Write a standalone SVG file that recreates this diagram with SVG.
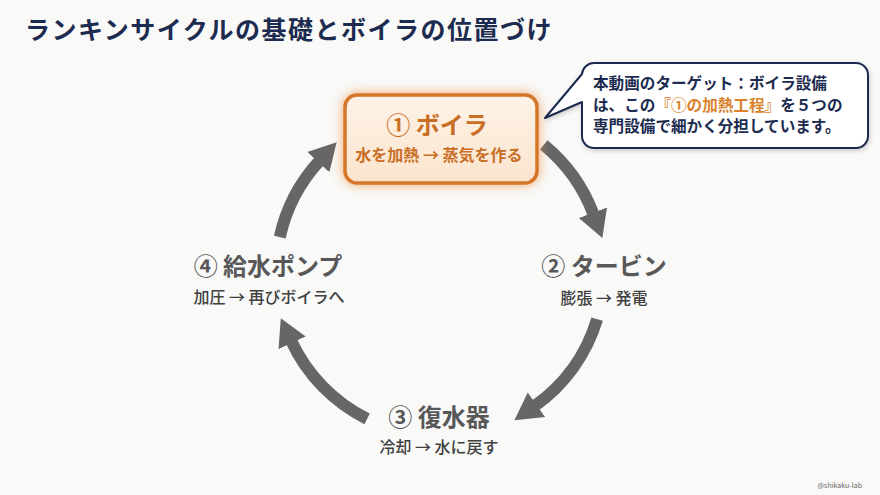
<svg xmlns="http://www.w3.org/2000/svg" width="880" height="495" viewBox="0 0 880 495">
<defs>
<style>
.jp{font-family:"Noto Sans CJK JP","Noto Sans",sans-serif;}
.title{font-size:25px;font-weight:700;fill:#1c2b4f;letter-spacing:1.5px;}
.ntitle{font-size:24px;font-weight:700;fill:#585858;text-anchor:middle;}
.nsub{font-size:16px;font-weight:500;fill:#404040;text-anchor:middle;}
.btitle{font-size:24px;font-weight:700;fill:#c96f25;text-anchor:middle;}
.bsub{font-size:16px;font-weight:700;fill:#c96f25;text-anchor:middle;}
.call{font-size:15.6px;font-weight:700;fill:#1c2b4f;}
.hl{fill:#d9822b;}
.arc{fill:none;stroke:#666;stroke-width:12;marker-end:url(#head);}
</style>
<marker id="head" markerUnits="userSpaceOnUse" markerWidth="30" markerHeight="32" refX="2" refY="16" orient="auto">
<polygon points="0,1 27,16 0,31" fill="#666"/>
</marker>
<filter id="glow" x="-20%" y="-30%" width="140%" height="160%">
<feGaussianBlur stdDeviation="6"/>
</filter>
<filter id="shadow" x="-10%" y="-20%" width="120%" height="150%">
<feDropShadow dx="1" dy="2" stdDeviation="2" flood-color="#000" flood-opacity="0.18"/>
</filter>
<linearGradient id="bfill" x1="0" y1="0" x2="0" y2="1">
<stop offset="0" stop-color="#fef3e8"/>
<stop offset="1" stop-color="#fbe4cd"/>
</linearGradient>
</defs>
<rect width="880" height="495" fill="#f9f9f8"/>
<text class="jp title" x="25" y="39">ランキンサイクルの基礎とボイラの位置づけ</text>

<g id="connectors">
<path class="arc" d="M543.7,144.9 A164,164 0 0 1 593.6,214.6"/>
<path class="arc" d="M597.1,319.1 A164,164 0 0 1 534.8,405.8"/>
<path class="arc" d="M367.1,418.9 A164,164 0 0 1 291.3,341.0"/>
<path class="arc" d="M279.8,237.1 A164,164 0 0 1 319.7,160.6"/>
</g>

<g id="boiler">
<rect x="343" y="93" width="196" height="92" rx="14" fill="#f09a55" opacity="0.8" filter="url(#glow)"/>
<rect x="345" y="95" width="192" height="88" rx="12" fill="url(#bfill)" stroke="#d5772b" stroke-width="3.5"/>
<text class="jp btitle" x="437" y="134">① ボイラ</text>
<text class="jp bsub" x="439" y="161">水を加熱 → 蒸気を作る</text>
</g>

<g id="turbine">
<text class="jp ntitle" x="604" y="275">② タービン</text>
<text class="jp nsub" x="604" y="304">膨張 → 発電</text>
</g>

<g id="condenser">
<text class="jp ntitle" x="439" y="426">③ 復水器</text>
<text class="jp nsub" x="439" y="453">冷却 → 水に戻す</text>
</g>

<g id="pump">
<text class="jp ntitle" x="268" y="275">④ 給水ポンプ</text>
<text class="jp nsub" x="269" y="303">加圧 → 再びボイラへ</text>
</g>

<g id="callout">
<path d="M594,63 H856 A12,12 0 0 1 868,75 V136 A12,12 0 0 1 856,148 H594 A12,12 0 0 1 582,136 V102 L545,118 L582,74 A12,12 0 0 1 594,63 Z" fill="#ffffff" stroke="#1c2b4f" stroke-width="2" stroke-linejoin="round" filter="url(#shadow)"/>
<text class="jp call" x="593" y="89">本動画のターゲット：ボイラ設備</text>
<text class="jp call" x="593" y="111">は、この<tspan class="hl">『①の加熱工程』</tspan>を５つの</text>
<text class="jp call" x="593" y="132">専門設備で細かく分担しています。</text>
</g>

<text class="jp" x="862" y="488" font-size="7" fill="#666" text-anchor="end">@shikaku-lab</text>
</svg>
